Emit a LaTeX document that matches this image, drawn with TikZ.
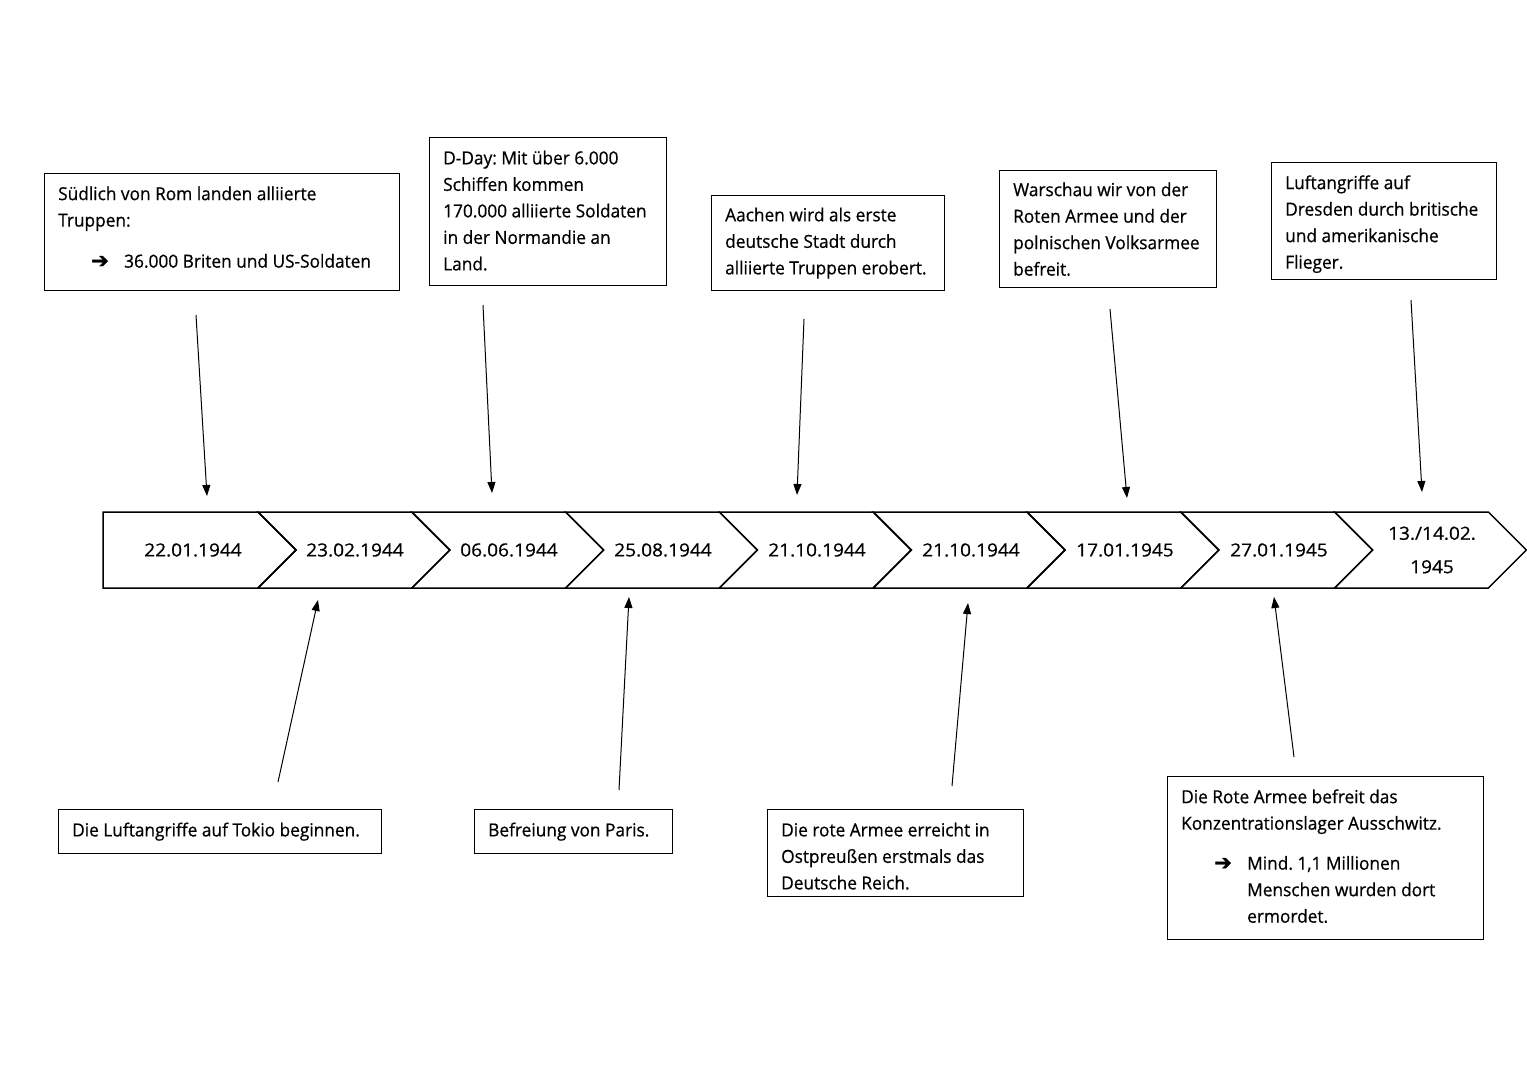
\documentclass[tikz,border=0pt]{standalone}
\usepackage{fontspec}
\setmainfont{Open Sans}[FakeStretch=0.96,FakeBold=0.6]
\newfontfamily\datefont{Open Sans}[FakeStretch=1.06,FakeBold=0.6]
\newfontfamily\arrowfont{DejaVu Sans}[FakeBold=1.5]
\usetikzlibrary{arrows.meta}
\frenchspacing
\newcommand{\barr}{\makebox[66pt][l]{\hspace*{33pt}{\arrowfont\fontsize{21}{21}\selectfont ➔}}}
\tikzset{
  every node/.style={font=\fontsize{18}{26.5}\selectfont},
  evbox/.style={draw=black, line width=1.3pt, anchor=north west, inner sep=0pt},
  evtext/.style={anchor=west, align=left, inner sep=0pt},
  datetext/.style={font=\datefont\fontsize{18}{26.5}\selectfont},
  chev/.style={draw=black, line width=1.5pt, line join=miter},
  link/.style={draw=black, line width=1pt, -{Triangle[length=11pt,width=8pt]}},
}
\newcommand{\evnode}[7]{% name, x1, y1, x2, y2, yshift, text
  \pgfmathsetmacro{\ww}{#4-#2}\pgfmathsetmacro{\hh}{#5-#3}
  \node[evbox, minimum width=\ww pt, minimum height=\hh pt] (#1) at (#2,#3) {};
  \node[evtext] (#1t) at ([xshift=14pt,yshift=#6pt]#1.west) {#7};}
\begin{document}
\begin{tikzpicture}[x=1pt,y=-1pt]
\useasboundingbox[fill=white] (0,0) rectangle (1527,1080);
% timeline chevrons
\draw[chev] (103,512) -- (258,512) -- (296,550) -- (258,588) -- (103,588) -- cycle;
\foreach \k in {0,...,7}{
  \pgfmathsetmacro{\L}{258+153.8*\k}
  \pgfmathsetmacro{\R}{258+153.8*(\k+1)}
  \draw[chev] (\L,512) -- (\R,512) -- (\R+38,550) -- (\R,588) -- (\L,588) -- (\L+38,550) -- cycle;
}
\node[datetext] (d1) at (193,550) {22.01.1944};
\node[datetext] (d2) at (355,550) {23.02.1944};
\node[datetext] (d3) at (509,550) {06.06.1944};
\node[datetext] (d4) at (663,550) {25.08.1944};
\node[datetext] (d5) at (817,550) {21.10.1944};
\node[datetext] (d6) at (971,550) {21.10.1944};
\node[datetext] (d7) at (1125,550) {17.01.1945};
\node[datetext] (d8) at (1279,550) {27.01.1945};
\node[datetext, align=center] (d9) at (1432,550) {13./14.02.\\[7pt]1945};
% top boxes
\evnode{t1}{44}{173}{399}{290}{5}{Südlich von Rom landen alliierte\\Truppen:\\[14.5pt]\barr 36.000 Briten und US-Soldaten}
\evnode{t2}{429}{137}{666}{285}{1}{D-Day: Mit über 6.000\\Schiffen kommen\\170.000 alliierte Soldaten\\in der Normandie an\\Land.}
\evnode{t3}{711}{195}{944}{290}{0}{Aachen wird als erste\\deutsche Stadt durch\\alliierte Truppen erobert.}
\evnode{t4}{999}{170}{1216}{287}{0}{Warschau wir von der\\Roten Armee und der\\polnischen Volksarmee\\befreit.}
\evnode{t5}{1271}{162}{1496}{279}{-3}{Luftangriffe auf\\Dresden durch britische\\und amerikanische\\Flieger.}
% bottom boxes
\evnode{b1}{58}{809}{381}{853}{0}{Die Luftangriffe auf Tokio beginnen.}
\evnode{b2}{474}{809}{672}{853}{0}{Befreiung von Paris.}
\evnode{b3}{767}{809}{1023}{896}{-3}{Die rote Armee erreicht in\\Ostpreußen erstmals das\\Deutsche Reich.}
\evnode{b4}{1167}{776}{1483}{939}{2}{Die Rote Armee befreit das\\Konzentrationslager Ausschwitz.\\[13.5pt]\barr Mind. 1,1 Millionen\\\hspace*{66pt}Menschen wurden dort\\\hspace*{66pt}ermordet.}
% arrow coordinates
\coordinate (ta1s) at (196,315); \coordinate (ta1e) at (207,496);
\coordinate (ta2s) at (483,305); \coordinate (ta2e) at (492,493);
\coordinate (ta3s) at (804,319); \coordinate (ta3e) at (797,495);
\coordinate (ta4s) at (1110,309); \coordinate (ta4e) at (1127,498);
\coordinate (ta5s) at (1411,300); \coordinate (ta5e) at (1422,492);
\coordinate (ba1s) at (278,782); \coordinate (ba1e) at (318,600);
\coordinate (ba2s) at (619,790); \coordinate (ba2e) at (629,597);
\coordinate (ba3s) at (952,786); \coordinate (ba3e) at (968,603);
\coordinate (ba4s) at (1294,757); \coordinate (ba4e) at (1274,597);
\foreach \a in {ta1,ta2,ta3,ta4,ta5,ba1,ba2,ba3,ba4}{
  \draw[link] (\a s) -- (\a e);
}
\end{tikzpicture}
\end{document}
